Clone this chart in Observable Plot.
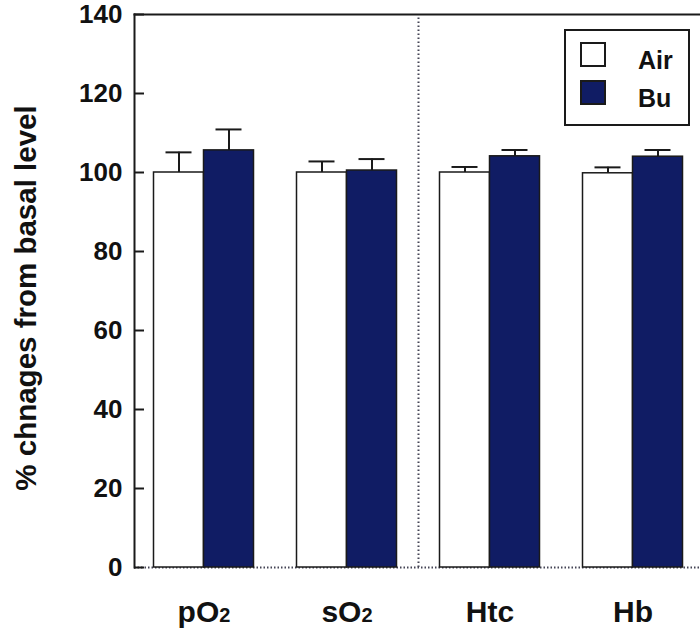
<!DOCTYPE html>
<html>
<head>
<meta charset="utf-8">
<script src="https://cdn.jsdelivr.net/npm/d3@7"></script>
<script src="https://cdn.jsdelivr.net/npm/@observablehq/plot@0.6"></script>
<style>
  html, body { margin: 0; padding: 0; background: #fff; }
  #wrap { position: relative; width: 700px; height: 633px; overflow: hidden; font-family: "Liberation Sans", Arial, sans-serif; }
  #legend { position: absolute; left: 564px; top: 29px; width: 122px; height: 93px; border: 2px solid #1a1a1a; background: #fff; }
  .sw { position: absolute; left: 14px; width: 22px; height: 21px; border: 2px solid #1a1a1a; }
  .lb { position: absolute; left: 72px; font-weight: bold; font-size: 25px; color: #111; line-height: 1; }
</style>
</head>
<body>
<div id="wrap"></div>
<script>
const categories = ["pO2", "sO2", "Htc", "Hb"];
const series = ["Air", "Bu"];
const airValues = [100, 100, 100, 99.8];
const airErrors = [5.1, 2.8, 1.4, 1.5];
const buValues = [105.6, 100.5, 104.1, 104.0];
const buErrors = [5.3, 2.9, 1.6, 1.7];
const yTicks = [0, 20, 40, 60, 80, 100, 120, 140];
const yLabel = "% chnages from basal level";
const colors = {Air: "#ffffff", Bu: "#101c64"};

const air = categories.map((c, i) => ({category: c, series: "Air", value: airValues[i], err: airErrors[i]}));
const bu = categories.map((c, i) => ({category: c, series: "Bu", value: buValues[i], err: buErrors[i]}));

const ink = "#1a1a1a";
const half = 71.5; // half of category step

const chart = Plot.plot({
  width: 700,
  height: 633,
  marginLeft: 134,
  marginRight: 0,
  marginTop: 14,
  marginBottom: 66,
  style: {fontFamily: "'Liberation Sans', Arial, sans-serif", background: "#fff"},
  x: {domain: categories, range: [131.5, 703.5], padding: 0, label: null},
  y: {domain: [0, 140], label: null},
  marks: [
    Plot.ruleY([0], {stroke: "#445", strokeDasharray: "1.5,2", strokeWidth: 2}),
    Plot.ruleX(["Htc"], {dx: -half, y1: 0, y2: 140, stroke: "#445", strokeDasharray: "1.5,2.5", strokeWidth: 2}),
    // error bars
    Plot.ruleX(air, {x: "category", dx: -25, y1: "value", y2: d => d.value + d.err, stroke: ink, strokeWidth: 2}),
    Plot.ruleX(bu, {x: "category", dx: 25, y1: "value", y2: d => d.value + d.err, stroke: ink, strokeWidth: 2}),
    Plot.tickY(air, {x: "category", y: d => d.value + d.err, insetLeft: half - 25 - 13, insetRight: half + 25 - 13, stroke: ink, strokeWidth: 2}),
    Plot.tickY(bu, {x: "category", y: d => d.value + d.err, insetLeft: half + 25 - 13, insetRight: half - 25 - 13, stroke: ink, strokeWidth: 2}),
    // bars
    Plot.barY(air, {x: "category", y: "value", fill: colors.Air, stroke: ink, strokeWidth: 1.5, insetLeft: half - 50, insetRight: half}),
    Plot.barY(bu, {x: "category", y: "value", fill: colors.Bu, stroke: ink, strokeWidth: 1.5, insetLeft: half, insetRight: half - 50}),
    Plot.frame({anchor: "left", stroke: ink, strokeWidth: 2}),
    Plot.frame({anchor: "top", stroke: ink, strokeWidth: 2}),
    Plot.axisY({ticks: yTicks, tickSize: -10, tickPadding: 22, strokeWidth: 2, stroke: ink, fontSize: 26, fontWeight: "bold", fill: "#111", label: null}),
    Plot.axisX({tickSize: 0, tickPadding: 33, fontSize: 30, fontWeight: "bold", fill: "#111", label: null}),
    Plot.text([yLabel], {frameAnchor: "left", textAnchor: "middle", dx: -108, dy: 7, rotate: -90, fontSize: 29.5, fontWeight: "bold", fill: "#111"})
  ]
});

// subscripts for the trailing "2"
d3.select(chart).selectAll("[aria-label='x-axis tick label'] text").each(function () {
  const t = this.textContent;
  const m = t.match(/^(.*?)(\d+)$/);
  if (m) {
    const el = d3.select(this);
    el.text(null);
    el.append("tspan").text(m[1]);
    el.append("tspan").attr("font-size", 20).text(m[2]);
  }
});

const wrap = document.getElementById("wrap");
wrap.appendChild(chart);

const legend = document.createElement("div");
legend.id = "legend";
series.forEach((s, i) => {
  const sw = document.createElement("div");
  sw.className = "sw";
  sw.style.top = (11 + i * 38) + "px";
  sw.style.background = colors[s];
  legend.appendChild(sw);
  const lb = document.createElement("div");
  lb.className = "lb";
  lb.style.top = (17 + i * 38) + "px";
  lb.textContent = s;
  legend.appendChild(lb);
});
wrap.appendChild(legend);
</script>
</body>
</html>
